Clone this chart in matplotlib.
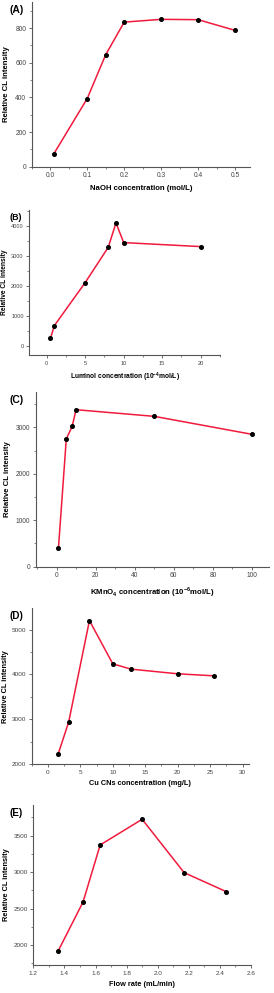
import matplotlib
matplotlib.use('Agg')
import matplotlib.pyplot as plt
from matplotlib.ticker import MultipleLocator, AutoMinorLocator, FormatStrFormatter

plt.rcParams['font.family'] = ['Liberation Sans', 'DejaVu Sans']
plt.rcParams['mathtext.fontset'] = 'custom'
plt.rcParams['mathtext.rm'] = 'Liberation Sans'
plt.rcParams['mathtext.bf'] = 'Liberation Sans:bold'

# (A) NaOH
naoh_x = [0.01, 0.1, 0.15, 0.2, 0.3, 0.4, 0.5]
naoh_y = [75, 393, 646, 834, 850, 848, 786]

# (B) luminol
lum_x = [0.5, 1, 5, 8, 9, 10, 20]
lum_y = [256, 678, 2111, 3289, 4100, 3444, 3311]

# (C) KMnO4
kmno4_x = [1, 5, 8, 10, 50, 100]
kmno4_y = [408, 2749, 3021, 3379, 3236, 2849]

# (D) Cu CNs
cu_x = [1.6, 3.2, 6.4, 10, 12.8, 20, 25.6]
cu_y = [2237, 2941, 5200, 4237, 4119, 4015, 3970]

# (E) flow rate
flow_x = [1.36, 1.52, 1.63, 1.90, 2.17, 2.44]
flow_y = [1918, 2590, 3372, 3724, 2992, 2732]

W, H = 274, 993
fig = plt.figure(figsize=(W / 100, H / 100), dpi=100)

def rect(l, t, r, b):
    return [l / W, 1 - b / H, (r - l) / W, (b - t) / H]

panels = [
    # letter, x, y, box(l,t,r,b), xlim, ylim, xmaj, ymaj, xlabel, scale, ylabel x
    ('(A)', naoh_x, naoh_y, (31.7, 2, 250, 166.7), (-0.05, 0.54), (0, 950),
     0.1, 200, 'NaOH concentration (mol/L)', 1.0, 7),
    ('(B)', lum_x, lum_y, (29.3, 210, 220, 355), (-2.25, 22.5), (-300, 4530),
     5, 1000, r'Luminol concentration (10$^{\mathbf{-4}}$mol/L)', 0.85, 5),
    ('(C)', kmno4_x, kmno4_y, (36, 392, 269, 566.7), (-10.5, 108.7), (0, 3760),
     20, 1000, r'KMnO$_{\mathbf{4}}$ concentration (10$^{\mathbf{-6}}$mol/L)', 1.0, 7.5),
    ('(D)', cu_x, cu_y, (31.7, 608, 249, 764.3), (-2.5, 31), (2000, 5480),
     5, 1000, 'Cu CNs concentration (mg/L)', 0.95, 5.5),
    ('(E)', flow_x, flow_y, (33.3, 805, 251, 965), (1.2, 2.6), (1725, 3920),
     0.2, 500, 'Flow rate (mL/min)', 0.95, 6.3),
]

gray = '#555555'
for letter, xs, ys, box, xl, yl, xm, ym, xlab, fs, ylx in panels:
    ax = fig.add_axes(rect(*box))
    ax.plot(xs, ys, color='#f01a3c', lw=1.1, marker='o', ms=2.6,
            mfc='black', mec='black', zorder=3)
    ax.set_xlim(*xl)
    ax.set_ylim(*yl)
    ax.xaxis.set_major_locator(MultipleLocator(xm))
    ax.yaxis.set_major_locator(MultipleLocator(ym))
    ax.xaxis.set_minor_locator(AutoMinorLocator(2))
    ax.yaxis.set_minor_locator(AutoMinorLocator(2))
    if letter in ('(A)', '(E)'):
        ax.xaxis.set_major_formatter(FormatStrFormatter('%.1f'))
    for s in ['top', 'right']:
        ax.spines[s].set_visible(False)
    for s in ['left', 'bottom']:
        ax.spines[s].set_color(gray)
        ax.spines[s].set_linewidth(0.8)
    ax.tick_params(which='major', direction='out', length=2.5, width=0.6,
                   color=gray, labelsize=4.8 * fs, labelcolor='#444444', pad=1.5)
    ax.tick_params(which='minor', direction='out', length=1.3, width=0.5,
                   color=gray)
    ax.set_xlabel(xlab, fontsize=5.6 * fs, fontweight='bold', labelpad=4)
    l, t, r, b = box
    fig.text(ylx / W, 1 - (t + b) / 2 / H, 'Relative CL intensity',
             fontsize=5.6 * fs, fontweight='bold', rotation=90,
             ha='center', va='center')
    fig.text(10 / W, 1 - (t + 8) / H, letter, fontsize=7.5 * fs,
             fontweight='bold', va='center', ha='left')

fig.savefig('out.png', dpi=100)
